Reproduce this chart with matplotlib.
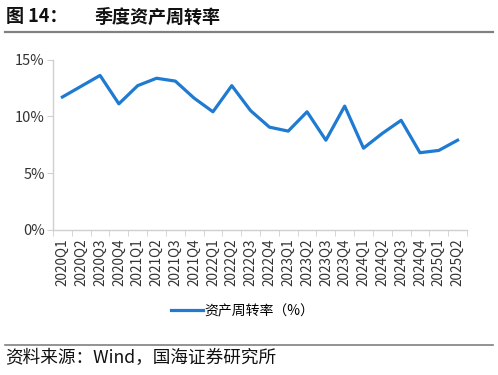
import matplotlib
matplotlib.use("Agg")
import matplotlib.pyplot as plt
from matplotlib.lines import Line2D
from matplotlib.ticker import FuncFormatter, FixedLocator

plt.rcParams['font.family'] = ['Noto Sans CJK SC', 'DejaVu Sans']

quarters = ["2020Q1", "2020Q2", "2020Q3", "2020Q4",
            "2021Q1", "2021Q2", "2021Q3", "2021Q4",
            "2022Q1", "2022Q2", "2022Q3", "2022Q4",
            "2023Q1", "2023Q2", "2023Q3", "2023Q4",
            "2024Q1", "2024Q2", "2024Q3", "2024Q4",
            "2025Q1", "2025Q2"]
turnover = [11.7, 12.65, 13.6, 11.1,
            12.7, 13.35, 13.1, 11.6,
            10.4, 12.7, 10.5, 9.05,
            8.7, 10.4, 7.9, 10.9,
            7.2, 8.5, 9.65, 6.8,
            7.0, 7.9]
series_name = "资产周转率（%）"
y_ticks = [0, 5, 10, 15]

fig = plt.figure(figsize=(4.98, 3.75), dpi=100)
W, H = 498, 375

# title and rules
fig.text(6 / W, 1 - 17 / H, "图 14：", fontsize=13,
         fontweight="bold", va="center", ha="left", color="#111111")
fig.text(94 / W, 1 - 17 / H, "季度资产周转率", fontsize=13,
         fontweight="bold", va="center", ha="left", color="#111111")
fig.add_artist(Line2D([5 / W, 493 / W], [1 - 32 / H, 1 - 32 / H],
                      color="#808080", lw=1.6))
fig.add_artist(Line2D([5 / W, 493 / W], [1 - 345 / H, 1 - 345 / H],
                      color="#808080", lw=1.2))
fig.text(5 / W, 1 - 358 / H, "资料来源：Wind，国海证券研究所", fontsize=12.7,
         va="center", ha="left", color="#111111")

ax = fig.add_axes([53 / W, 1 - 230 / H, (467 - 53) / W, (230 - 59.5) / H])
x = list(range(len(quarters)))
line, = ax.plot(x, turnover, color="#1f7ad2", lw=2.3, solid_joinstyle="round")

ax.set_xlim(-0.5, len(quarters) - 0.5)
ax.set_ylim(0, 15)
ax.set_yticks(y_ticks)
ax.yaxis.set_major_formatter(FuncFormatter(lambda v, p: f"{v:.0f}%"))
ax.set_xticks(x)
ax.set_xticklabels(quarters, rotation=90, fontsize=9.8, color="#333333")
ax.xaxis.set_minor_locator(FixedLocator([i - 0.5 for i in range(len(quarters) + 1)]))
ax.tick_params(axis="x", which="major", length=0, pad=6)
ax.tick_params(axis="x", which="minor", length=4, color="#d0d0d0")
ax.tick_params(axis="y", length=4, color="#d0d0d0", labelsize=10.5,
               labelcolor="#333333", pad=2)

for side in ["top", "right"]:
    ax.spines[side].set_visible(False)
for side in ["left", "bottom"]:
    ax.spines[side].set_color("#d0d0d0")
    ax.spines[side].set_linewidth(1)

fig.legend([line], [series_name], loc="center", bbox_to_anchor=(243 / W, 1 - 311 / H),
           frameon=False, fontsize=10, handlelength=2.3, handletextpad=0.1)

fig.savefig("out.png", dpi=100)
